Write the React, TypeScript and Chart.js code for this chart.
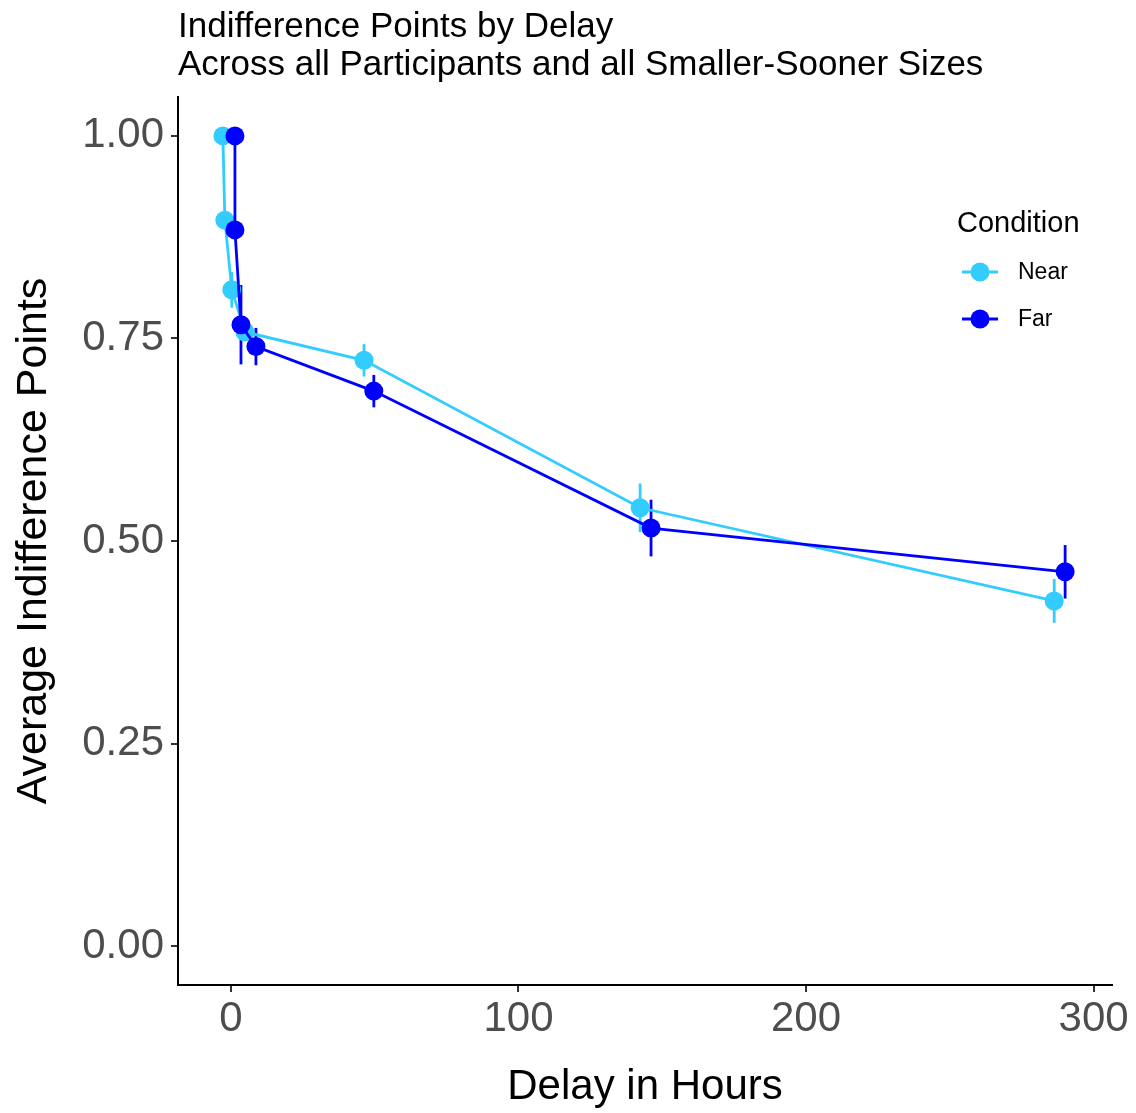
import React, { useEffect, useRef } from "react";
import { Chart, registerables } from "chart.js";

Chart.register(...registerables);

const seriesNames = ["Near", "Far"];
const nearDelay = [-2.8, -2.1, 0.3, 4.9, 46.3, 142.3, 286.3];
const nearValue = [1.0, 0.896, 0.81, 0.758, 0.723, 0.541, 0.426];
const nearError = [0.0, 0.008, 0.022, 0.01, 0.02, 0.03, 0.027];
const farDelay = [1.4, 1.4, 3.5, 8.7, 49.7, 146.1, 290.1];
const farValue = [1.0, 0.884, 0.767, 0.74, 0.685, 0.516, 0.462];
const farError = [0.0, 0.01, 0.049, 0.023, 0.02, 0.035, 0.033];
const xTickValues = [0, 100, 200, 300];
const yTickValues = [0, 0.25, 0.5, 0.75, 1.0];
const titleLines = [
  "Indifference Points by Delay",
  "Across all Participants and all Smaller-Sooner Sizes",
];
const xTitle = "Delay in Hours";
const yTitle = "Average Indifference Points";
const legendTitle = "Condition";

const NEAR_COLOR = "#33CCFF";
const FAR_COLOR = "#0000FF";
const FONT = "'Liberation Sans', Arial, sans-serif";

export default function App() {
  const ref = useRef<HTMLCanvasElement | null>(null);

  useEffect(() => {
    document.body.style.margin = "0";
    const canvas = ref.current;
    if (!canvas) return;

    const errors = [farError, nearError];

    const errorBarPlugin = {
      id: "errorBars",
      beforeDatasetsDraw(chart: any) {
        const ctx = chart.ctx;
        const xs = chart.scales.x;
        const ys = chart.scales.y;
        ctx.save();
        chart.data.datasets.forEach((ds: any, i: number) => {
          const err = errors[i];
          ctx.strokeStyle = ds.borderColor;
          ctx.lineWidth = 2.8;
          ds.data.forEach((p: any, j: number) => {
            const e = err[j];
            if (!e) return;
            const px = xs.getPixelForValue(p.x);
            ctx.beginPath();
            ctx.moveTo(px, ys.getPixelForValue(p.y - e));
            ctx.lineTo(px, ys.getPixelForValue(p.y + e));
            ctx.stroke();
          });
        });
        ctx.restore();
      },
    };

    const textPlugin = {
      id: "texts",
      afterDraw(chart: any) {
        const ctx = chart.ctx;
        const area = chart.chartArea;
        ctx.save();
        ctx.fillStyle = "#000";
        ctx.textAlign = "left";
        ctx.textBaseline = "alphabetic";
        ctx.font = `35px ${FONT}`;
        ctx.fillText(titleLines[0], area.left, 37);
        ctx.fillText(titleLines[1], area.left, 75);

        // legend
        ctx.font = `29px ${FONT}`;
        ctx.fillText(legendTitle, 957, 232);
        const items = [
          { name: seriesNames[0], color: NEAR_COLOR, y: 272 },
          { name: seriesNames[1], color: FAR_COLOR, y: 319 },
        ];
        items.forEach((it) => {
          ctx.strokeStyle = it.color;
          ctx.lineWidth = 2.8;
          ctx.beginPath();
          ctx.moveTo(962, it.y);
          ctx.lineTo(998, it.y);
          ctx.stroke();
          ctx.fillStyle = it.color;
          ctx.beginPath();
          ctx.arc(980, it.y, 9.5, 0, Math.PI * 2);
          ctx.fill();
          ctx.fillStyle = "#000";
          ctx.font = `23px ${FONT}`;
          ctx.textBaseline = "middle";
          ctx.fillText(it.name, 1018, it.y + 1);
        });
        ctx.restore();
      },
    };

    const makeData = (xs: number[], ys: number[]) =>
      xs.map((x, i) => ({ x, y: ys[i] }));

    const chart = new Chart(canvas, {
      type: "scatter",
      data: {
        datasets: [
          {
            label: seriesNames[1],
            data: makeData(farDelay, farValue),
            showLine: true,
            borderColor: FAR_COLOR,
            backgroundColor: FAR_COLOR,
            borderWidth: 2.8,
            pointRadius: 9.5,
            pointHoverRadius: 9.5,
            pointBorderWidth: 0,
            order: 0,
          },
          {
            label: seriesNames[0],
            data: makeData(nearDelay, nearValue),
            showLine: true,
            borderColor: NEAR_COLOR,
            backgroundColor: NEAR_COLOR,
            borderWidth: 2.8,
            pointRadius: 9.5,
            pointHoverRadius: 9.5,
            pointBorderWidth: 0,
            order: 1,
          },
        ],
      },
      options: {
        animation: false,
        responsive: false,
        events: [],
        layout: { padding: { top: 97, right: 24, bottom: 0, left: 0 } },
        plugins: {
          legend: { display: false },
          tooltip: { enabled: false },
          title: { display: false },
        },
        scales: {
          x: {
            type: "linear",
            min: -18.4,
            max: 306.4,
            afterFit(scale: any) {
              scale.height = 128;
            },
            afterBuildTicks(scale: any) {
              scale.ticks = xTickValues.map((v) => ({ value: v }));
            },
            ticks: {
              color: "#4D4D4D",
              font: { family: FONT, size: 42 },
              padding: 2,
              maxRotation: 0,
              callback: (v: any) => String(v),
            },
            grid: {
              drawOnChartArea: false,
              drawTicks: true,
              tickLength: 7,
              color: "#333333",
              lineWidth: 2,
            },
            border: { display: true, color: "#000", width: 2 },
            title: {
              display: true,
              text: xTitle,
              color: "#000",
              font: { family: FONT, size: 42 },
              padding: { top: 0, bottom: 0 },
            },
          },
          y: {
            type: "linear",
            min: -0.048,
            max: 1.048,
            afterFit(scale: any) {
              scale.width = 178;
            },
            afterBuildTicks(scale: any) {
              scale.ticks = yTickValues.map((v) => ({ value: v }));
            },
            ticks: {
              color: "#4D4D4D",
              font: { family: FONT, size: 42 },
              padding: 7,
              callback: (v: any) => Number(v).toFixed(2),
            },
            grid: {
              drawOnChartArea: false,
              drawTicks: true,
              tickLength: 7,
              color: "#333333",
              lineWidth: 2,
            },
            border: { display: true, color: "#000", width: 2 },
            title: {
              display: true,
              text: yTitle,
              color: "#000",
              font: { family: FONT, size: 43 },
              padding: { top: 8, bottom: 0 },
            },
          },
        },
      } as any,
      plugins: [errorBarPlugin, textPlugin],
    });

    return () => chart.destroy();
  }, []);

  return (
    <div style={{ width: 1136, height: 1113, background: "#fff" }}>
      <canvas ref={ref} width={1136} height={1113} />
    </div>
  );
}
